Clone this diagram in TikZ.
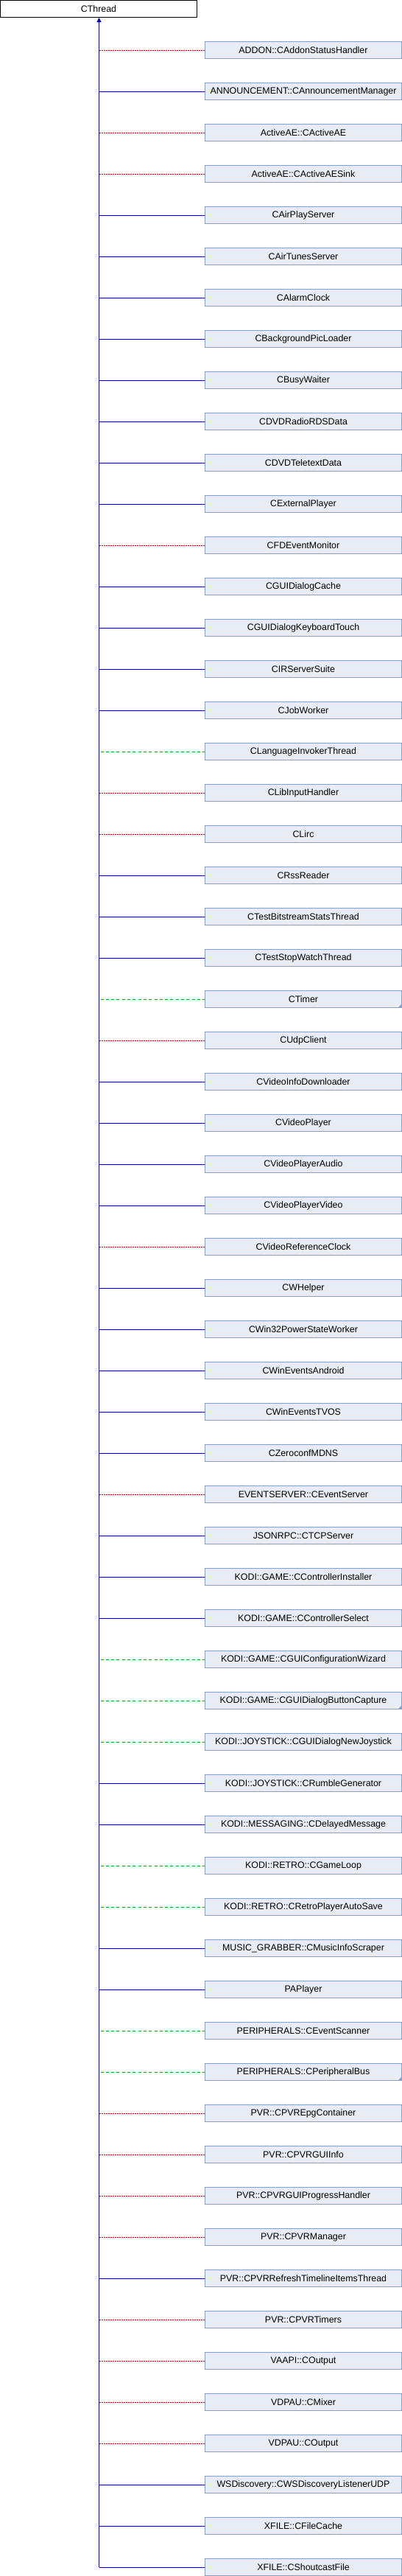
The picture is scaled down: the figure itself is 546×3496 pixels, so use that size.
\documentclass[tikz,border=0pt]{standalone}
\usepackage{fontspec}
\setmainfont{Liberation Sans}
\usetikzlibrary{arrows.meta}
\definecolor{pubc}{RGB}{0,0,160}
\definecolor{privc}{RGB}{176,0,0}
\definecolor{protc}{RGB}{0,176,0}
\definecolor{boxfill}{RGB}{232,236,245}
\definecolor{boxline}{RGB}{132,160,208}
\tikzset{
  base/.style={draw=black, fill=white, line width=1pt, rectangle, inner sep=0pt,
    minimum width=267pt, minimum height=23pt, font=\fontsize{12.4}{14}\selectfont},
  derived/.style={base, draw=boxline, fill=boxfill},
  pub/.style={draw=pubc, line width=1pt},
  priv/.style={draw=privc, line width=1pt, dash pattern=on 2pt off 1pt},
  prot/.style={draw=protc, line width=1pt, dash pattern=on 4pt off 3.3pt, dash phase=-2pt},
  moremark/.style={fill=boxline}
}
\begin{document}
\begin{tikzpicture}[x=1pt, y=-1pt]
\useasboundingbox (0,0) rectangle (546,3496);
\node[base] (top) at (134,12) {CThread};
\coordinate (trunk) at (134.5,0);
\foreach \i/\lbl/\st in {
1/ADDON::CAddonStatusHandler/priv,
2/ANNOUNCEMENT::CAnnouncementManager/pub,
3/ActiveAE::CActiveAE/priv,
4/ActiveAE::CActiveAESink/priv,
5/CAirPlayServer/pub,
6/CAirTunesServer/pub,
7/CAlarmClock/pub,
8/CBackgroundPicLoader/pub,
9/CBusyWaiter/pub,
10/CDVDRadioRDSData/pub,
11/CDVDTeletextData/pub,
12/CExternalPlayer/pub,
13/CFDEventMonitor/priv,
14/CGUIDialogCache/pub,
15/CGUIDialogKeyboardTouch/pub,
16/CIRServerSuite/pub,
17/CJobWorker/pub,
18/CLanguageInvokerThread/prot,
19/CLibInputHandler/priv,
20/CLirc/priv,
21/CRssReader/pub,
22/CTestBitstreamStatsThread/pub,
23/CTestStopWatchThread/pub,
24/CTimer/prot,
25/CUdpClient/priv,
26/CVideoInfoDownloader/pub,
27/CVideoPlayer/pub,
28/CVideoPlayerAudio/pub,
29/CVideoPlayerVideo/pub,
30/CVideoReferenceClock/priv,
31/CWHelper/pub,
32/CWin32PowerStateWorker/pub,
33/CWinEventsAndroid/pub,
34/CWinEventsTVOS/pub,
35/CZeroconfMDNS/pub,
36/EVENTSERVER::CEventServer/priv,
37/JSONRPC::CTCPServer/pub,
38/KODI::GAME::CControllerInstaller/pub,
39/KODI::GAME::CControllerSelect/pub,
40/KODI::GAME::CGUIConfigurationWizard/prot,
41/KODI::GAME::CGUIDialogButtonCapture/prot,
42/KODI::JOYSTICK::CGUIDialogNewJoystick/prot,
43/KODI::JOYSTICK::CRumbleGenerator/pub,
44/KODI::MESSAGING::CDelayedMessage/pub,
45/KODI::RETRO::CGameLoop/prot,
46/KODI::RETRO::CRetroPlayerAutoSave/prot,
47/MUSIC\_GRABBER::CMusicInfoScraper/pub,
48/PAPlayer/pub,
49/PERIPHERALS::CEventScanner/prot,
50/PERIPHERALS::CPeripheralBus/prot,
51/PVR::CPVREpgContainer/priv,
52/PVR::CPVRGUIInfo/priv,
53/PVR::CPVRGUIProgressHandler/priv,
54/PVR::CPVRManager/priv,
55/PVR::CPVRRefreshTimelineItemsThread/pub,
56/PVR::CPVRTimers/priv,
57/VAAPI::COutput/priv,
58/VDPAU::CMixer/priv,
59/VDPAU::COutput/priv,
60/WSDiscovery::CWSDiscoveryListenerUDP/pub,
61/XFILE::CFileCache/pub,
62/XFILE::CShoutcastFile/pub}{
  \node[derived] (c\i) at (412,{12+56*\i}) {\lbl};
  \draw[\st] (trunk |- c\i.west) -- (c\i.west);
}
\foreach \j in {24,41,50}{
  \fill[moremark] ([xshift=-0.5pt,yshift=0.5pt]c\j.south east) -- ++(0,-5) -- ++(-5,5) -- cycle;
}
\draw[pub, -{Triangle[length=6pt,width=6pt]}] (trunk |- c62.west) -- (trunk |- top.south);
\end{tikzpicture}
\end{document}
